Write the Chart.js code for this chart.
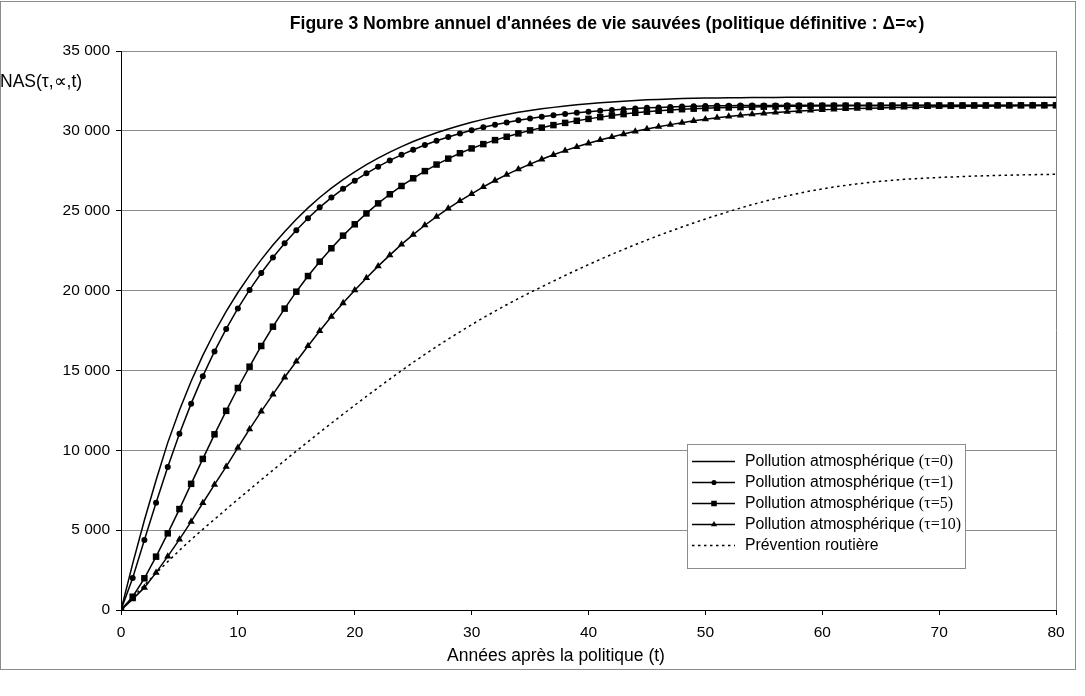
<!DOCTYPE html>
<html><head><meta charset="utf-8">
<script src="https://cdn.jsdelivr.net/npm/chart.js@4.4.1/dist/chart.umd.min.js"></script>
<style>html,body{margin:0;padding:0;background:#fff;}#wrap{width:1085px;height:696px;}</style>
</head><body><div id="wrap"><canvas id="c" width="1085" height="696"></canvas></div>
<script>
const years=[0,1,2,3,4,5,6,7,8,9,10,11,12,13,14,15,16,17,18,19,20,21,22,23,24,25,26,27,28,29,30,31,32,33,34,35,36,37,38,39,40,41,42,43,44,45,46,47,48,49,50,51,52,53,54,55,56,57,58,59,60,61,62,63,64,65,66,67,68,69,70,71,72,73,74,75,76,77,78,79,80];
const tau0=[0,2900,5620,8120,10480,12510,14320,15940,17390,18700,19880,20950,21940,22850,23690,24470,25180,25830,26410,26940,27430,27880,28290,28670,29015,29330,29615,29880,30120,30340,30540,30720,30880,31030,31160,31280,31380,31470,31560,31630,31700,31760,31810,31860,31900,31940,31970,32000,32020,32040,32055,32065,32075,32080,32085,32090,32095,32100,32100,32100,32100,32100,32100,32100,32100,32100,32100,32100,32100,32100,32100,32100,32100,32100,32100,32100,32100,32100,32100,32100,32100];
const tau1=[0,2000,4380,6720,8960,11030,12920,14640,16190,17600,18880,20040,21100,22070,22960,23780,24530,25210,25820,26370,26880,27340,27760,28150,28500,28820,29110,29380,29620,29840,30040,30220,30380,30530,30660,30780,30880,30970,31060,31130,31200,31260,31310,31360,31400,31440,31470,31500,31520,31540,31555,31565,31575,31580,31585,31590,31595,31600,31600,31600,31600,31600,31600,31600,31600,31600,31600,31600,31600,31600,31600,31600,31600,31600,31600,31600,31600,31600,31600,31600,31600];
const tau5=[0,830,1985,3340,4800,6320,7900,9460,11000,12470,13900,15235,16530,17740,18870,19930,20910,21810,22650,23440,24150,24830,25460,26030,26550,27030,27480,27890,28260,28600,28900,29170,29420,29630,29840,30030,30200,30360,30500,30630,30750,30860,30960,31050,31130,31200,31260,31310,31355,31390,31420,31445,31465,31485,31500,31515,31525,31535,31545,31552,31558,31563,31567,31571,31574,31577,31580,31582,31584,31586,31588,31590,31591,31592,31593,31594,31595,31596,31597,31598,31599];
const tau10=[0,680,1400,2340,3360,4420,5530,6700,7850,8975,10160,11320,12440,13500,14570,15560,16530,17470,18370,19220,20020,20790,21530,22220,22890,23500,24090,24630,25140,25610,26060,26490,26890,27260,27600,27920,28220,28500,28760,29000,29220,29430,29620,29800,29970,30120,30260,30390,30510,30630,30730,30820,30900,30975,31040,31100,31150,31195,31240,31280,31315,31345,31370,31395,31415,31435,31455,31470,31485,31500,31510,31520,31530,31540,31548,31555,31562,31568,31573,31578,31582];
const road=[0,780,1550,2300,3030,3730,4410,5050,5680,6305,6925,7540,8150,8755,9355,9950,10540,11120,11695,12260,12820,13375,13920,14460,14990,15505,16005,16490,16962,17420,17864,18294,18710,19112,19500,19874,20234,20594,20946,21290,21625,21951,22268,22576,22875,23165,23446,23718,23981,24235,24480,24718,24948,25170,25380,25575,25760,25930,26090,26235,26365,26483,26588,26683,26768,26843,26908,26963,27008,27048,27083,27113,27141,27166,27188,27208,27226,27242,27256,27269,27281];
const xTicks=[0,10,20,30,40,50,60,70,80];
const yTicks=[0,5000,10000,15000,20000,25000,30000,35000];
const seriesNames=["Pollution atmosphérique ","Pollution atmosphérique ","Pollution atmosphérique ","Pollution atmosphérique ","Prévention routière"];
const seriesSuffix=["(τ=0)","(τ=1)","(τ=5)","(τ=10)",""];
const titleText="Figure 3 Nombre annuel d'années de vie sauvées (politique définitive : Δ=∝)";
const yTitle="NAS(τ,∝,t)";
const xTitle="Années après la politique (t)";

const SANS="'Liberation Sans', Arial, sans-serif";
const SERIF="'Liberation Serif', 'Times New Roman', serif";
const styles=[
 {ps:false,r:0,dash:[]},
 {ps:'circle',r:3,dash:[]},
 {ps:'rect',r:4.6,dash:[]},
 {ps:'triangle',r:4.2,dash:[]},
 {ps:false,r:0,dash:[2.5,3.5]}
];
const allSeries=[tau0,tau1,tau5,tau10,road];
function pts(arr){return years.map((t,i)=>({x:t,y:arr[i]}));}
function fmt(v){if(v===0)return '0';const k=Math.floor(v/1000);const r=String(v%1000).padStart(3,'0');return k+' '+r;}

function drawMarker(ctx,style,x,y,r){
  ctx.beginPath();
  if(style==='circle'){ctx.arc(x,y,r,0,Math.PI*2);}
  else if(style==='rect'){const s=r*Math.SQRT1_2;ctx.rect(x-s,y-s,2*s,2*s);}
  else if(style==='triangle'){ctx.moveTo(x,y-r);ctx.lineTo(x+r*0.866,y+r*0.5);ctx.lineTo(x-r*0.866,y+r*0.5);ctx.closePath();}
  ctx.fill();
}

const datasets=allSeries.map((arr,i)=>({
  label:seriesNames[i]+seriesSuffix[i],
  data:pts(arr),
  borderColor:'#000',backgroundColor:'#000',
  borderWidth:1.5,
  borderDash:styles[i].dash,
  pointStyle:styles[i].ps||'circle',
  pointRadius:styles[i].ps?styles[i].r:0,
  pointBorderWidth:0,
  pointHoverRadius:0,
  tension:0,
  fill:false
}));

const deco={
  id:'deco',
  afterDraw(chart){
    const ctx=chart.ctx;const ca=chart.chartArea;
    ctx.save();
    ctx.strokeStyle='#808080';ctx.lineWidth=1;
    ctx.beginPath();ctx.moveTo(Math.round(ca.right)+0.5,ca.top);ctx.lineTo(Math.round(ca.right)+0.5,ca.bottom);ctx.stroke();
    ctx.strokeStyle='#8c8c8c';
    ctx.strokeRect(0.5,1.5,1075,668);
    ctx.fillStyle='#000';ctx.textBaseline='middle';ctx.textAlign='center';
    ctx.font="bold 17.6px "+SANS;
    ctx.fillText(titleText,607,24);
    ctx.textAlign='left';ctx.font="17.5px "+SANS;
    ctx.fillText(yTitle,0,82);
    ctx.textAlign='center';ctx.font="17.5px "+SANS;
    ctx.fillText(xTitle,556,656);
    const lx=687,ly=444,lw=278,lh=124;
    ctx.fillStyle='#fff';ctx.fillRect(lx,ly,lw,lh);
    ctx.strokeStyle='#8c8c8c';ctx.lineWidth=1;ctx.strokeRect(lx+0.5,ly+0.5,lw,lh);
    for(let i=0;i<5;i++){
      const y=461+i*21;
      ctx.strokeStyle='#000';ctx.lineWidth=1.5;ctx.setLineDash(styles[i].dash);
      ctx.beginPath();ctx.moveTo(692,y+0.5);ctx.lineTo(735,y+0.5);ctx.stroke();
      ctx.setLineDash([]);
      ctx.fillStyle='#000';
      if(styles[i].ps) drawMarker(ctx,styles[i].ps,714,y+0.5,styles[i].r*0.85);
      ctx.textAlign='left';ctx.textBaseline='middle';
      ctx.font="15.8px "+SANS;
      ctx.fillText(seriesNames[i],745,y+1);
      const w=ctx.measureText(seriesNames[i]).width;
      ctx.font="16px "+SERIF;
      ctx.fillText(seriesSuffix[i],745+w,y+1);
    }
    ctx.restore();
  }
};

new Chart(document.getElementById('c'),{
  type:'line',
  data:{datasets},
  options:{
    responsive:false,animation:false,devicePixelRatio:1,
    layout:{padding:{left:0,right:29,top:51,bottom:0}},
    plugins:{legend:{display:false},title:{display:false},tooltip:{enabled:false}},
    scales:{
      x:{type:'linear',min:0,max:80,
        afterBuildTicks(s){s.ticks=xTicks.map(v=>({value:v}));},
        afterFit(s){s.height=86;},
        ticks:{font:{family:SANS,size:15.5},color:'#000',padding:8,maxRotation:0},
        grid:{drawOnChartArea:false,tickLength:5,color:'#000',tickColor:'#000'},
        border:{color:'#000',width:1}},
      y:{min:0,max:35000,
        afterBuildTicks(s){s.ticks=yTicks.map(v=>({value:v}));},
        afterFit(s){s.width=121;},
        ticks:{font:{family:SANS,size:15.5},color:'#000',padding:6,callback:v=>fmt(v)},
        grid:{color:'#8c8c8c',tickLength:5,tickColor:'#000',lineWidth:1},
        border:{color:'#000',width:1}}
    }
  },
  plugins:[deco]
});
</script></body></html>
